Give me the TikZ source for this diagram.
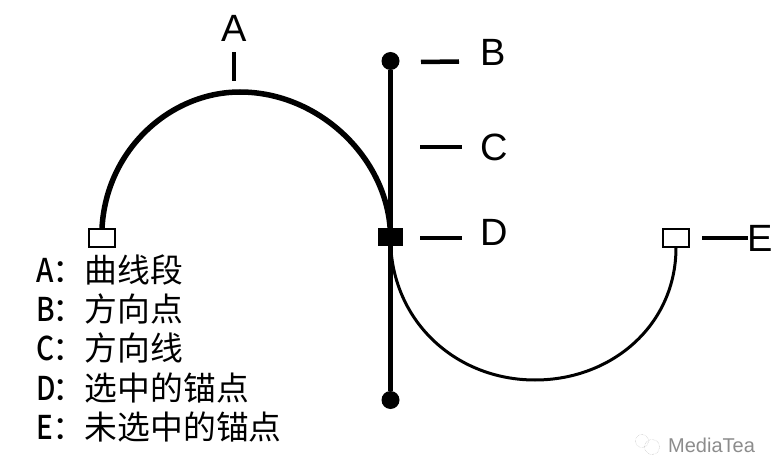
\documentclass[tikz,border=0pt]{standalone}
\usepackage{fontspec}
\setmainfont{Liberation Sans}
\newfontfamily\cjkfont{Noto Sans CJK SC}
\newfontfamily\leyfont[FakeStretch=0.85]{Noto Sans CJK SC Medium}
\tikzset{
	letra/.style={inner sep=0pt, font=\fontsize{38}{38}\selectfont},
	leyenda/.style={anchor=west, inner sep=0pt, font=\cjkfont\fontsize{32.8}{33}\selectfont},
	guia/.style={line width=4.5pt},
	ancla/.style={draw, fill=white, line width=1.2pt, inner sep=0pt, minimum width=26pt, minimum height=18pt},
	anclasel/.style={fill=black, inner sep=0pt, minimum width=25pt, minimum height=18pt},
	punto/.style={circle, fill=black, inner sep=0pt, minimum size=18pt}
}
\newcommand{\letraley}[1]{\makebox[16pt][l]{\leyfont #1}}
\begin{document}
\begin{tikzpicture}[x=1pt, y=-1pt]
	\useasboundingbox (0,0) rectangle (780,476);

	% Anclas y puntos
	\node[ancla] (izq) at (102,238) {};
	\node[ancla] (der) at (676,238) {};
	\node[anclasel] (sel) at (390.5,237) {};
	\node[punto] (dirsup) at (390.5,61) {};
	\node[punto] (dirinf) at (390.5,400) {};

	% Curva
	\coordinate (cima) at (240,92);
	\coordinate (fondo) at (535,380);
	\draw[line width=5.5pt] (izq.north) .. controls (106,150) and (170,92) .. (cima) .. controls (320,92) and (390,160) .. (sel.center);
	\draw[line width=3pt] (sel.center) .. controls (390,320) and (455,380) .. (fondo) .. controls (612,380) and (676,325) .. (der.south);

	% Linea de direccion
	\draw[guia] (dirsup) -- (dirinf);

	% Letras con sus marcas
	\node[letra] (letraA) at (234,28) {A};
	\node[letra] (letraB) at (493,52) {B};
	\node[letra] (letraC) at (494,147) {C};
	\node[letra] (letraD) at (494,232) {D};
	\node[letra] (letraE) at (760,238) {E};
	\coordinate (marcaA) at (234,81);
	\coordinate (marcaB) at (421,62);
	\coordinate (marcaC) at (420,147);
	\coordinate (marcaD) at (420,238);
	\coordinate (marcaE) at (702,238);
	\coordinate (finA) at (234,52);
	\coordinate (finB) at (459,61.5);
	\coordinate (finC) at (462,147);
	\coordinate (finD) at (462,238);
	\coordinate (finE) at (748,238);
	\draw[guia] (marcaA) -- (finA);
	\draw[guia] (marcaB) -- (finB);
	\draw[guia] (marcaC) -- (finC);
	\draw[guia] (marcaD) -- (finD);
	\draw[guia] (marcaE) -- (finE);

	% Leyenda
	\node[leyenda] (leyA) at (36,270) {\letraley{A}：曲线段};
	\node[leyenda] (leyB) at (36,309) {\letraley{B}：方向点};
	\node[leyenda] (leyC) at (36,348) {\letraley{C}：方向线};
	\node[leyenda] (leyD) at (36,388) {\letraley{D}：选中的锚点};
	\node[leyenda] (leyE) at (36,427) {\letraley{E}：未选中的锚点};

	% Marca de agua
	\node[anchor=west, inner sep=0pt, text=black!45, font=\fontsize{20}{20}\selectfont] (marca) at (668,445) {MediaTea};
	\draw[black!35, densely dotted] (642,441) circle (6.5);
	\draw[black!35, densely dotted] (652,447) circle (7.5);
\end{tikzpicture}
\end{document}
